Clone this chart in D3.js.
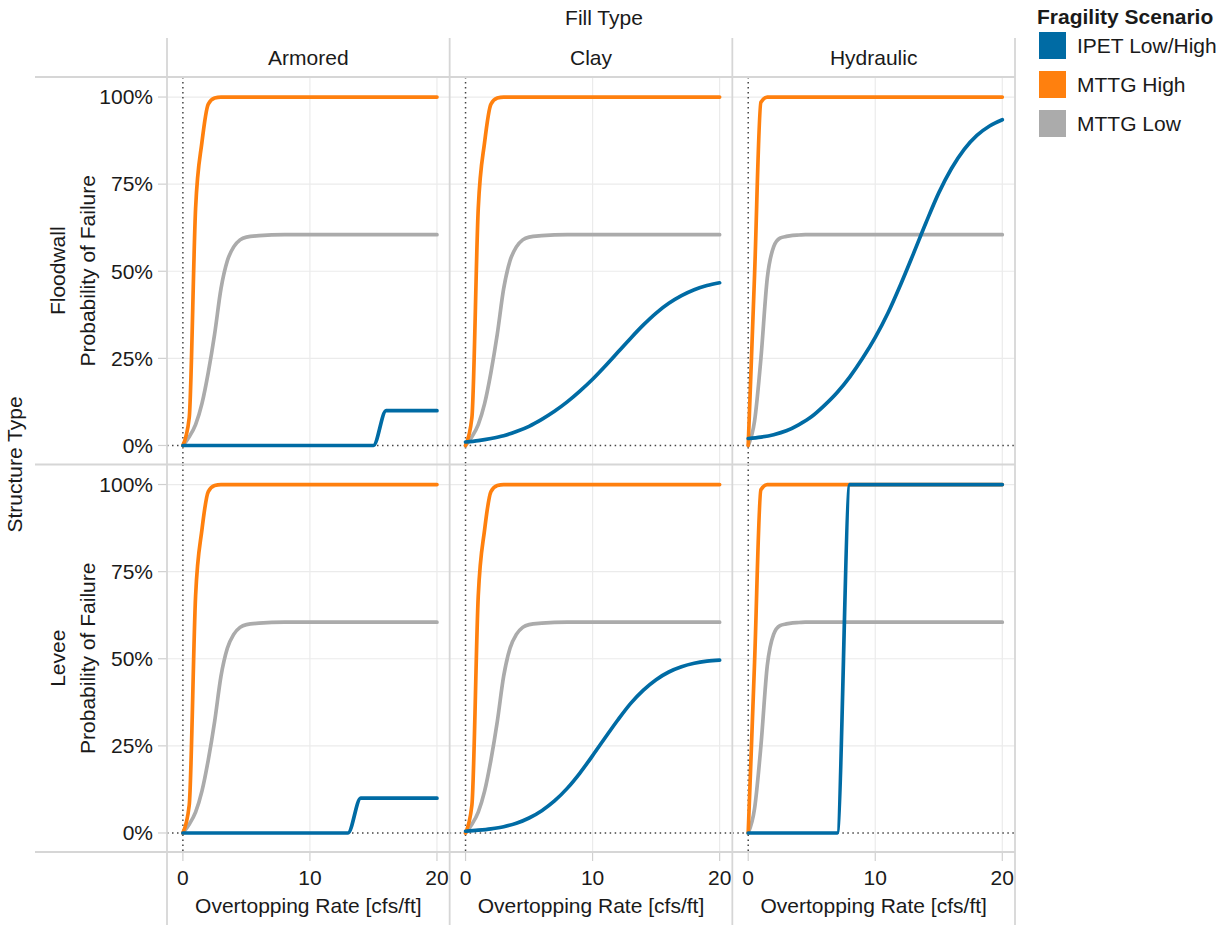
<!DOCTYPE html>
<html>
<head>
<meta charset="utf-8">
<script src="https://cdn.jsdelivr.net/npm/d3@7"></script>
<style>
  body { margin: 0; background: #fff; }
  svg { display: block; font-family: "Liberation Sans", Arial, sans-serif; }
</style>
</head>
<body>
<div id="chart"></div>
<script>
// Facets and series
let fillTypes = ["Armored", "Clay", "Hydraulic"];
let structureTypes = ["Floodwall", "Levee"];
let scenarios = ["IPET Low/High", "MTTG High", "MTTG Low"];
let scenarioColors = ["#006BA4", "#FF800E", "#ABABAB"];

// Overtopping rates [cfs/ft] the curves are read at
let rateFine = [0, 0.5, 1, 1.5, 2, 2.5, 3, 3.5, 4, 4.5, 5, 6, 8, 10, 12, 14, 16, 18, 20];
let rateWhole = [0, 1, 2, 3, 4, 5, 6, 7, 8, 9, 10, 11, 12, 13, 14, 15, 16, 17, 18, 19, 20];

// MTTG curves (same for floodwall and levee), on rateFine
let mttgHighArmored = [0, 0.08, 0.68, 0.87, 0.98, 0.997, 1, 1, 1, 1, 1, 1, 1, 1, 1, 1, 1, 1, 1];
let mttgHighClay = [0, 0.08, 0.68, 0.87, 0.98, 0.997, 1, 1, 1, 1, 1, 1, 1, 1, 1, 1, 1, 1, 1];
let mttgHighHydraulic = [0, 0.49, 0.985, 1, 1, 1, 1, 1, 1, 1, 1, 1, 1, 1, 1, 1, 1, 1, 1];
let mttgLowArmored = [0, 0.025, 0.06, 0.12, 0.21, 0.32, 0.45, 0.53, 0.57, 0.59, 0.598, 0.602, 0.605, 0.605, 0.605, 0.605, 0.605, 0.605, 0.605];
let mttgLowClay = [0, 0.025, 0.06, 0.12, 0.21, 0.32, 0.45, 0.53, 0.57, 0.59, 0.598, 0.602, 0.605, 0.605, 0.605, 0.605, 0.605, 0.605, 0.605];
let mttgLowHydraulic = [0, 0.07, 0.25, 0.48, 0.57, 0.595, 0.6, 0.603, 0.604, 0.605, 0.605, 0.605, 0.605, 0.605, 0.605, 0.605, 0.605, 0.605, 0.605];

// IPET curves, on rateWhole
let ipetFloodwallArmored = [0, 0, 0, 0, 0, 0, 0, 0, 0, 0, 0, 0, 0, 0, 0, 0, 0.1, 0.1, 0.1, 0.1, 0.1];
let ipetFloodwallClay = [0.01, 0.014, 0.02, 0.028, 0.04, 0.055, 0.075, 0.098, 0.125, 0.156, 0.19, 0.228, 0.268, 0.308, 0.346, 0.38, 0.408, 0.43, 0.447, 0.459, 0.467];
let ipetFloodwallHydraulic = [0.02, 0.024, 0.031, 0.042, 0.06, 0.083, 0.115, 0.152, 0.197, 0.25, 0.31, 0.38, 0.462, 0.55, 0.64, 0.725, 0.795, 0.85, 0.89, 0.917, 0.935];
let ipetLeveeArmored = [0, 0, 0, 0, 0, 0, 0, 0, 0, 0, 0, 0, 0, 0, 0.1, 0.1, 0.1, 0.1, 0.1, 0.1, 0.1];
let ipetLeveeClay = [0.005, 0.008, 0.012, 0.018, 0.028, 0.043, 0.064, 0.092, 0.128, 0.172, 0.222, 0.274, 0.325, 0.372, 0.41, 0.44, 0.462, 0.477, 0.487, 0.493, 0.496];
let ipetLeveeHydraulic = [0, 0, 0, 0, 0, 0, 0, 0, 1, 1, 1, 1, 1, 1, 1, 1, 1, 1, 1, 1, 1];

let yTicks = [0, 0.25, 0.5, 0.75, 1];
let xTicks = [0, 10, 20];

let mttgHigh = { Armored: mttgHighArmored, Clay: mttgHighClay, Hydraulic: mttgHighHydraulic };
let mttgLow = { Armored: mttgLowArmored, Clay: mttgLowClay, Hydraulic: mttgLowHydraulic };
let ipet = {
    Floodwall: { Armored: ipetFloodwallArmored, Clay: ipetFloodwallClay, Hydraulic: ipetFloodwallHydraulic },
    Levee: { Armored: ipetLeveeArmored, Clay: ipetLeveeClay, Hydraulic: ipetLeveeHydraulic }
};

// Layout
let width = 1231, height = 925;
let gridLeft = 167, gridRight = 1015;
let gridTop = 77, axisTop = 852;
let colW = (gridRight - gridLeft) / 3;
let rowH = (axisTop - gridTop) / 2;
let textColor = "#1a1a1a";
let fontSize = "21px";

let color = d3.scaleOrdinal().domain(scenarios).range(scenarioColors);

let x = d3.scaleLinear().domain([-1.25, 21]).range([0, colW]);
let y = d3.scaleLinear().domain([-0.0546, 1.0575]).range([rowH, 0]);

let line = d3.line()
    .x(d => x(d[0]))
    .y(d => y(d[1]))
    .curve(d3.curveMonotoneX);

let svg = d3.select("#chart")
    .append("svg")
    .attr("width", width)
    .attr("height", height)
    .style("font-size", fontSize)
    .attr("fill", textColor);

// Panels
structureTypes.forEach((structure, r) => {
    fillTypes.forEach((fill, c) => {
        let g = svg.append("g")
            .attr("transform", `translate(${gridLeft + c * colW},${gridTop + r * rowH})`);

        // gridlines
        g.selectAll(".hgrid")
            .data(yTicks.filter(t => t > 0))
            .join("line")
            .attr("x1", 0).attr("x2", colW)
            .attr("y1", d => y(d)).attr("y2", d => y(d))
            .attr("stroke", "#ebebeb").attr("stroke-width", 1.2);

        g.selectAll(".vgrid")
            .data(xTicks.filter(t => t > 0))
            .join("line")
            .attr("x1", d => x(d)).attr("x2", d => x(d))
            .attr("y1", 0).attr("y2", rowH)
            .attr("stroke", "#ebebeb").attr("stroke-width", 1.2);

        // zero reference lines
        g.append("line")
            .attr("x1", 0).attr("x2", colW)
            .attr("y1", y(0)).attr("y2", y(0))
            .attr("stroke", "#444").attr("stroke-width", 1.5)
            .attr("stroke-dasharray", "1.5,3.5");
        g.append("line")
            .attr("x1", x(0)).attr("x2", x(0))
            .attr("y1", 0).attr("y2", rowH)
            .attr("stroke", "#444").attr("stroke-width", 1.5)
            .attr("stroke-dasharray", "1.5,3.5");

        // curves: MTTG Low, MTTG High, then IPET on top
        let series = [
            { key: "MTTG Low", pts: rateFine.map((v, i) => [v, mttgLow[fill][i]]) },
            { key: "MTTG High", pts: rateFine.map((v, i) => [v, mttgHigh[fill][i]]) },
            { key: "IPET Low/High", pts: rateWhole.map((v, i) => [v, ipet[structure][fill][i]]) }
        ];

        g.selectAll(".curve")
            .data(series)
            .join("path")
            .attr("fill", "none")
            .attr("stroke", d => color(d.key))
            .attr("stroke-width", 3.7)
            .attr("stroke-linejoin", "round")
            .attr("stroke-linecap", "round")
            .attr("d", d => line(d.pts));
    });
});

// Y axes (first column only)
structureTypes.forEach((structure, r) => {
    let g = svg.append("g")
        .attr("transform", `translate(${gridLeft},${gridTop + r * rowH})`);

    g.selectAll(".tick")
        .data(yTicks)
        .join("line")
        .attr("x1", -9).attr("x2", 0)
        .attr("y1", d => y(d)).attr("y2", d => y(d))
        .attr("stroke", "#d0d0d0").attr("stroke-width", 1.2);

    g.selectAll(".label")
        .data(yTicks)
        .join("text")
        .attr("x", -14)
        .attr("y", d => y(d))
        .attr("dy", "0.35em")
        .attr("text-anchor", "end")
        .text(d => d3.format(".0%")(d));

    // row header + axis title
    let cy = gridTop + r * rowH + rowH / 2;
    svg.append("text")
        .attr("transform", `translate(65,${cy}) rotate(-90)`)
        .attr("text-anchor", "middle")
        .text(structure);
    svg.append("text")
        .attr("transform", `translate(95,${cy}) rotate(-90)`)
        .attr("text-anchor", "middle")
        .text("Probability of Failure");
});

svg.append("text")
    .attr("transform", `translate(22,${gridTop + rowH}) rotate(-90)`)
    .attr("text-anchor", "middle")
    .text("Structure Type");

// X axes
fillTypes.forEach((fill, c) => {
    let g = svg.append("g")
        .attr("transform", `translate(${gridLeft + c * colW},${axisTop})`);

    g.selectAll(".tick")
        .data(xTicks)
        .join("line")
        .attr("x1", d => x(d)).attr("x2", d => x(d))
        .attr("y1", 0).attr("y2", 9)
        .attr("stroke", "#d0d0d0").attr("stroke-width", 1.2);

    g.selectAll(".label")
        .data(xTicks)
        .join("text")
        .attr("x", d => x(d))
        .attr("y", 33)
        .attr("text-anchor", "middle")
        .text(d => d);

    g.append("text")
        .attr("x", colW / 2)
        .attr("y", 61)
        .attr("text-anchor", "middle")
        .text("Overtopping Rate [cfs/ft]");

    // column header
    svg.append("text")
        .attr("x", gridLeft + c * colW + colW / 2)
        .attr("y", 65)
        .attr("text-anchor", "middle")
        .text(fill);
});

svg.append("text")
    .attr("x", 604)
    .attr("y", 25)
    .attr("text-anchor", "middle")
    .text("Fill Type");

// Dividers
let dividerColor = "#d6d6d6";
[gridTop, gridTop + rowH, axisTop].forEach(yy => {
    svg.append("line")
        .attr("x1", 35).attr("x2", gridRight)
        .attr("y1", yy).attr("y2", yy)
        .attr("stroke", dividerColor).attr("stroke-width", 1.8);
});
d3.range(4).forEach(c => {
    svg.append("line")
        .attr("x1", gridLeft + c * colW).attr("x2", gridLeft + c * colW)
        .attr("y1", 38).attr("y2", height)
        .attr("stroke", dividerColor).attr("stroke-width", 1.8);
});

// Legend
let legend = svg.append("g").attr("transform", "translate(1039,0)");
legend.append("text")
    .attr("x", -2)
    .attr("y", 24)
    .attr("font-weight", "bold")
    .text("Fragility Scenario");

scenarios.forEach((s, i) => {
    legend.append("rect")
        .attr("x", 0)
        .attr("y", 32 + i * 39)
        .attr("width", 27)
        .attr("height", 27)
        .attr("fill", color(s));
    legend.append("text")
        .attr("x", 38)
        .attr("y", 46 + i * 39)
        .attr("dy", "0.35em")
        .text(s);
});
</script>
</body>
</html>
